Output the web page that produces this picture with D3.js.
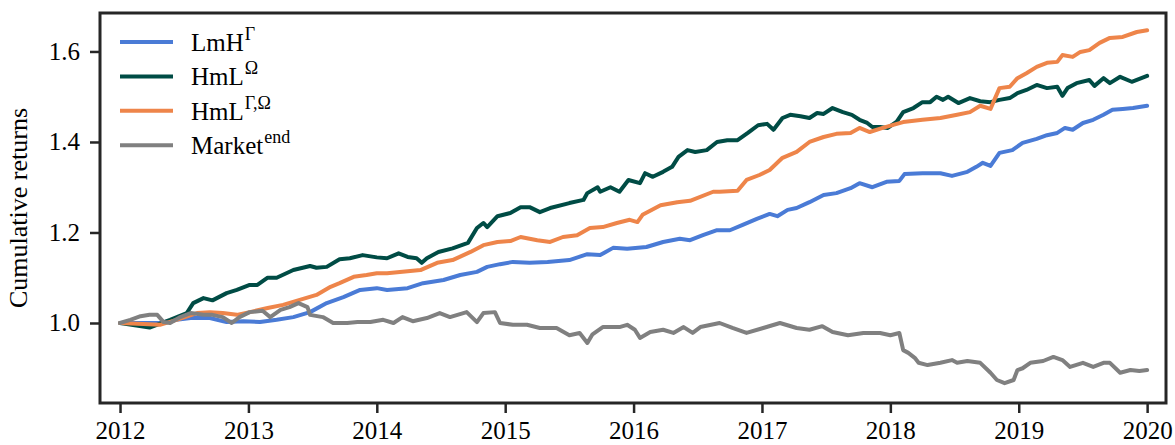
<!DOCTYPE html>
<html>
<head>
<meta charset="utf-8">
<script src="https://cdn.jsdelivr.net/npm/d3@7"></script>
<style>
  body { margin: 0; background: #fff; }
  svg { display: block; font-family: "Liberation Serif", "DejaVu Serif", serif; }
</style>
</head>
<body>
<svg id="chart" width="1175" height="445"></svg>
<script>
// years after 2012 for each reading, and the cumulative return read there
const lmhT = [0,0.18,0.31,0.44,0.55,0.70,0.83,0.96,1.09,1.22,1.35,1.48,1.61,1.74,1.87,2.00,2.08,2.24,2.36,2.52,2.65,2.78,2.86,2.96,3.06,3.19,3.33,3.50,3.64,3.74,3.84,3.95,4.10,4.23,4.36,4.44,4.54,4.65,4.75,4.85,4.96,5.06,5.12,5.20,5.27,5.37,5.48,5.58,5.69,5.76,5.86,5.97,6.07,6.11,6.25,6.39,6.48,6.60,6.67,6.72,6.78,6.85,6.95,7.03,7.14,7.22,7.30,7.36,7.42,7.50,7.58,7.66,7.73,7.81,7.89,8.00];
const lmhV = [1.000,1.000,1.000,1.007,1.011,1.011,1.002,1.004,1.002,1.007,1.013,1.024,1.044,1.057,1.073,1.077,1.073,1.077,1.088,1.095,1.106,1.113,1.124,1.130,1.135,1.133,1.135,1.139,1.152,1.150,1.166,1.164,1.168,1.179,1.186,1.183,1.194,1.205,1.205,1.217,1.230,1.241,1.236,1.250,1.254,1.267,1.283,1.287,1.298,1.309,1.300,1.312,1.314,1.329,1.331,1.331,1.325,1.334,1.345,1.354,1.347,1.376,1.382,1.398,1.407,1.415,1.420,1.431,1.427,1.442,1.449,1.460,1.471,1.473,1.475,1.480];

const hmlOT = [0,0.23,0.39,0.52,0.57,0.65,0.72,0.83,0.91,1.01,1.07,1.15,1.22,1.35,1.48,1.53,1.61,1.71,1.79,1.89,2.00,2.08,2.17,2.24,2.31,2.35,2.39,2.48,2.59,2.71,2.78,2.83,2.86,2.94,3.04,3.12,3.19,3.27,3.35,3.50,3.61,3.64,3.72,3.74,3.82,3.89,3.96,4.05,4.09,4.15,4.23,4.30,4.35,4.42,4.48,4.57,4.65,4.73,4.81,4.89,4.97,5.04,5.09,5.16,5.22,5.30,5.37,5.43,5.48,5.55,5.63,5.70,5.76,5.82,5.86,5.92,5.98,6.05,6.10,6.18,6.25,6.31,6.36,6.41,6.45,6.53,6.62,6.70,6.78,6.85,6.93,6.99,7.06,7.14,7.22,7.30,7.34,7.38,7.45,7.55,7.59,7.66,7.71,7.79,7.88,8.00];
const hmlOV = [1.000,0.990,1.007,1.022,1.044,1.055,1.050,1.066,1.073,1.084,1.084,1.100,1.100,1.117,1.126,1.122,1.124,1.141,1.143,1.150,1.145,1.143,1.154,1.146,1.143,1.133,1.143,1.157,1.165,1.177,1.210,1.221,1.212,1.236,1.243,1.256,1.256,1.245,1.254,1.265,1.272,1.287,1.300,1.290,1.300,1.290,1.316,1.309,1.331,1.323,1.334,1.345,1.367,1.382,1.378,1.382,1.400,1.404,1.404,1.420,1.437,1.440,1.427,1.453,1.460,1.457,1.453,1.464,1.462,1.475,1.466,1.460,1.449,1.442,1.433,1.433,1.431,1.445,1.466,1.475,1.488,1.488,1.500,1.493,1.500,1.486,1.497,1.490,1.488,1.493,1.497,1.508,1.515,1.526,1.519,1.522,1.502,1.519,1.530,1.537,1.524,1.541,1.530,1.544,1.533,1.546];

const hmlGOT = [0,0.18,0.31,0.44,0.60,0.70,0.80,0.91,1.01,1.15,1.27,1.40,1.53,1.64,1.71,1.82,1.92,2.00,2.08,2.20,2.34,2.47,2.59,2.73,2.83,2.94,3.04,3.12,3.25,3.35,3.45,3.56,3.66,3.76,3.87,3.97,4.03,4.07,4.21,4.34,4.44,4.62,4.67,4.81,4.88,4.98,5.06,5.16,5.27,5.37,5.48,5.58,5.69,5.76,5.84,5.94,6.05,6.10,6.25,6.39,6.52,6.62,6.70,6.78,6.81,6.85,6.93,6.99,7.06,7.14,7.22,7.30,7.34,7.42,7.48,7.55,7.63,7.71,7.81,7.92,8.00];
const hmlGOV = [1.000,0.998,0.996,1.007,1.022,1.024,1.022,1.018,1.024,1.033,1.040,1.051,1.062,1.080,1.088,1.102,1.106,1.110,1.110,1.113,1.117,1.133,1.139,1.157,1.172,1.179,1.181,1.190,1.183,1.179,1.190,1.194,1.210,1.212,1.221,1.228,1.223,1.239,1.260,1.267,1.270,1.290,1.290,1.292,1.316,1.327,1.338,1.365,1.378,1.400,1.411,1.418,1.420,1.431,1.422,1.431,1.440,1.444,1.449,1.453,1.460,1.466,1.480,1.473,1.493,1.519,1.522,1.541,1.552,1.566,1.575,1.577,1.592,1.588,1.599,1.603,1.619,1.630,1.632,1.643,1.647];

const mktT = [0,0.08,0.16,0.23,0.29,0.34,0.39,0.47,0.55,0.65,0.72,0.80,0.87,0.93,1.01,1.11,1.17,1.25,1.32,1.39,1.46,1.48,1.58,1.66,1.77,1.85,1.95,2.05,2.13,2.20,2.28,2.39,2.49,2.57,2.70,2.78,2.83,2.92,2.96,3.06,3.17,3.27,3.40,3.50,3.58,3.64,3.68,3.76,3.89,3.95,4.01,4.05,4.13,4.23,4.31,4.39,4.46,4.52,4.67,4.77,4.88,5.01,5.14,5.27,5.37,5.47,5.55,5.67,5.79,5.92,6.00,6.07,6.10,6.14,6.19,6.22,6.29,6.39,6.48,6.52,6.60,6.70,6.78,6.83,6.89,6.96,6.99,7.03,7.09,7.19,7.27,7.34,7.40,7.50,7.58,7.66,7.71,7.79,7.87,7.94,8.00];
const mktV = [1.000,1.007,1.015,1.018,1.018,1.002,1.000,1.013,1.022,1.018,1.018,1.013,1.000,1.013,1.024,1.027,1.013,1.029,1.035,1.044,1.035,1.018,1.013,1.000,1.000,1.002,1.002,1.007,1.000,1.013,1.004,1.011,1.022,1.013,1.024,1.002,1.022,1.024,1.000,0.996,0.996,0.989,0.989,0.973,0.978,0.956,0.975,0.991,0.991,0.996,0.985,0.967,0.980,0.985,0.978,0.991,0.978,0.991,1.000,0.989,0.978,0.989,1.000,0.989,0.985,0.993,0.980,0.973,0.978,0.978,0.973,0.978,0.940,0.934,0.923,0.912,0.907,0.912,0.918,0.912,0.916,0.912,0.890,0.874,0.867,0.874,0.896,0.900,0.912,0.916,0.925,0.918,0.903,0.912,0.903,0.912,0.912,0.890,0.896,0.894,0.896];

const startYear = 2012;
const xTicks = [2012, 2013, 2014, 2015, 2016, 2017, 2018, 2019, 2020];
const yTicks = [1.0, 1.2, 1.4, 1.6];

const series = [
  { t: lmhT,  v: lmhV,  color: '#4a7bd6', name: 'LmH',    sup: 'Γ' },
  { t: hmlOT, v: hmlOV, color: '#004c45', name: 'HmL',    sup: 'Ω' },
  { t: hmlGOT, v: hmlGOV, color: '#ee854a', name: 'HmL',  sup: 'Γ,Ω' },
  { t: mktT,  v: mktV,  color: '#808080', name: 'Market', sup: 'end' }
];

const W = 1175, H = 445;
const m = { left: 100, right: 9, top: 13, bottom: 42 };
const svg = d3.select('#chart');

const x = d3.scaleLinear().domain([2011.844, 2020.147]).range([m.left, W - m.right]);
const y = d3.scaleLinear().domain([0.8232, 1.685]).range([H - m.bottom, m.top]);

const line = d3.line()
  .x(d => x(d[0]))
  .y(d => y(d[1]));

const plot = svg.append('g');
series.forEach(s => {
  const pts = s.t.map((t, i) => [startYear + t, s.v[i]]);
  plot.append('path')
    .datum(pts)
    .attr('fill', 'none')
    .attr('stroke', s.color)
    .attr('stroke-width', 4)
    .attr('stroke-linejoin', 'round')
    .attr('stroke-linecap', 'round')
    .attr('d', line);
});

// frame
svg.append('rect')
  .attr('x', m.left).attr('y', m.top)
  .attr('width', W - m.left - m.right).attr('height', H - m.top - m.bottom)
  .attr('fill', 'none').attr('stroke', '#262626').attr('stroke-width', 3);

const styleAxis = g => {
  g.select('.domain').remove();
  g.selectAll('.tick line').attr('stroke', '#262626').attr('stroke-width', 2.5);
  g.selectAll('.tick text').attr('fill', '#000').attr('font-size', 25)
    .attr('font-family', '"Liberation Serif", serif');
};

svg.append('g')
  .attr('transform', `translate(0,${H - m.bottom + 1})`)
  .call(d3.axisBottom(x).tickValues(xTicks).tickFormat(d3.format('d')).tickSize(9).tickPadding(8))
  .call(styleAxis);

svg.append('g')
  .attr('transform', `translate(${m.left - 1},0)`)
  .call(d3.axisLeft(y).tickValues(yTicks).tickFormat(d3.format('.1f')).tickSize(9).tickPadding(10))
  .call(styleAxis);

svg.append('text')
  .attr('transform', `translate(27,${(m.top + H - m.bottom) / 2}) rotate(-90)`)
  .attr('text-anchor', 'middle')
  .attr('font-size', 26)
  .attr('fill', '#000')
  .text('Cumulative returns');

// legend
const legend = svg.append('g').attr('transform', 'translate(120,42)');
series.forEach((s, i) => {
  const row = legend.append('g').attr('transform', `translate(0,${i * 34.4})`);
  row.append('line')
    .attr('x1', 0).attr('x2', 53)
    .attr('stroke', s.color).attr('stroke-width', 4);
  const txt = row.append('text')
    .attr('x', 71).attr('y', 9)
    .attr('font-size', 25).attr('fill', '#000');
  txt.append('tspan').text(s.name);
  txt.append('tspan').attr('dy', -11).attr('dx', 1).attr('font-size', 18).text(s.sup);
});
</script>
</body>
</html>
